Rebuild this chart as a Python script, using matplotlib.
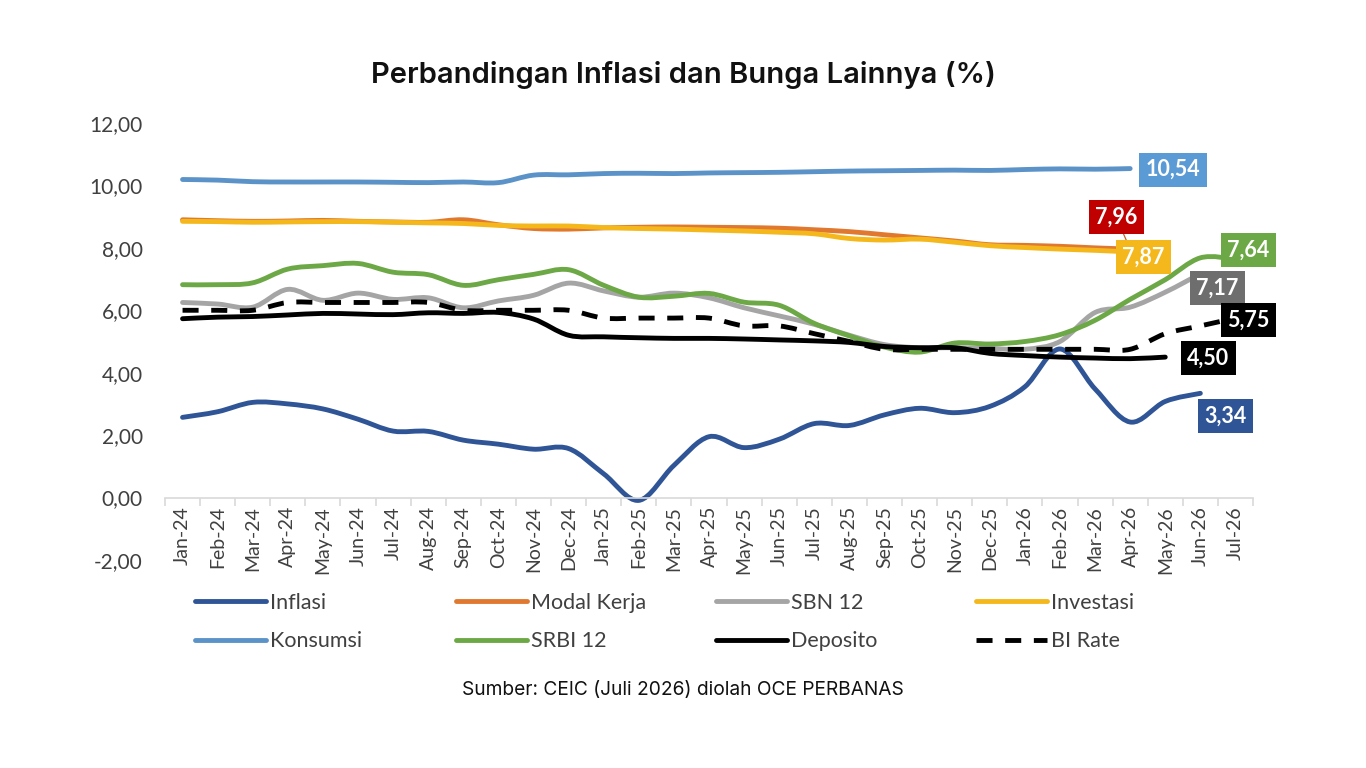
import numpy as np
import matplotlib
matplotlib.use("Agg")
import matplotlib.pyplot as plt
from matplotlib.path import Path
from matplotlib.patches import PathPatch
from matplotlib.lines import Line2D
from matplotlib.ticker import FixedLocator, FuncFormatter

# ---------------------------------------------------------------------------
# Data
# ---------------------------------------------------------------------------
months = ["Jan-24", "Feb-24", "Mar-24", "Apr-24", "May-24", "Jun-24",
          "Jul-24", "Aug-24", "Sep-24", "Oct-24", "Nov-24", "Dec-24",
          "Jan-25", "Feb-25", "Mar-25", "Apr-25", "May-25", "Jun-25",
          "Jul-25", "Aug-25", "Sep-25", "Oct-25", "Nov-25", "Dec-25",
          "Jan-26", "Feb-26", "Mar-26", "Apr-26", "May-26", "Jun-26",
          "Jul-26"]

inflasi = [2.57, 2.75, 3.05, 3.00, 2.84, 2.51, 2.13, 2.12, 1.84, 1.71,
           1.55, 1.57, 0.76, -0.09, 1.03, 1.95, 1.60, 1.87, 2.37, 2.31,
           2.65, 2.86, 2.72, 2.92, 3.55, 4.76, 3.48, 2.42, 3.08, 3.34]
modal_kerja = [8.90, 8.87, 8.85, 8.86, 8.88, 8.85, 8.83, 8.82, 8.90, 8.74,
               8.62, 8.60, 8.64, 8.66, 8.67, 8.66, 8.65, 8.63, 8.58, 8.52,
               8.42, 8.32, 8.22, 8.10, 8.08, 8.05, 8.00, 7.96]
sbn_12 = [6.25, 6.20, 6.10, 6.67, 6.32, 6.55, 6.35, 6.40, 6.08, 6.30,
          6.48, 6.87, 6.62, 6.42, 6.55, 6.40, 6.08, 5.82, 5.55, 5.20,
          4.90, 4.80, 4.80, 4.78, 4.75, 5.00, 5.93, 6.10, 6.58, 7.17]
investasi = [8.85, 8.84, 8.82, 8.83, 8.84, 8.84, 8.82, 8.80, 8.78, 8.72,
             8.70, 8.70, 8.65, 8.62, 8.60, 8.57, 8.54, 8.50, 8.45, 8.30,
             8.25, 8.28, 8.18, 8.07, 8.01, 7.96, 7.92, 7.87]
konsumsi = [10.19, 10.17, 10.12, 10.11, 10.11, 10.11, 10.10, 10.09, 10.11,
            10.09, 10.33, 10.34, 10.38, 10.39, 10.38, 10.40, 10.41, 10.42,
            10.44, 10.46, 10.47, 10.48, 10.49, 10.48, 10.51, 10.53, 10.52,
            10.54]
srbi_12 = [6.82, 6.82, 6.88, 7.32, 7.43, 7.50, 7.22, 7.14, 6.80, 6.98,
           7.15, 7.30, 6.80, 6.42, 6.45, 6.54, 6.26, 6.16, 5.58, 5.18,
           4.82, 4.66, 4.95, 4.92, 5.00, 5.22, 5.68, 6.35, 6.98, 7.68, 7.64]
deposito = [5.73, 5.78, 5.80, 5.85, 5.90, 5.88, 5.86, 5.92, 5.90, 5.93,
            5.72, 5.20, 5.15, 5.12, 5.10, 5.10, 5.08, 5.05, 5.02, 4.97,
            4.84, 4.80, 4.80, 4.62, 4.55, 4.50, 4.47, 4.45, 4.50]
bi_rate = [6.00, 6.00, 6.00, 6.25, 6.25, 6.25, 6.25, 6.25, 6.00, 6.00,
           6.00, 6.00, 5.75, 5.75, 5.75, 5.75, 5.50, 5.50, 5.25, 5.00,
           4.75, 4.75, 4.75, 4.75, 4.75, 4.75, 4.75, 4.75, 5.25, 5.50, 5.75]

# series order = Excel draw order (first at the bottom)
series = [
    ("Inflasi", inflasi, "#2F5597", "-"),
    ("Modal Kerja", modal_kerja, "#E0792F", "-"),
    ("SBN 12", sbn_12, "#A5A5A5", "-"),
    ("Investasi", investasi, "#F5B81C", "-"),
    ("Konsumsi", konsumsi, "#5B93C8", "-"),
    ("SRBI 12", srbi_12, "#6CA845", "-"),
    ("Deposito", deposito, "#000000", "-"),
    ("BI Rate", bi_rate, "#000000", "--"),
]

# end-of-series value boxes: series name -> (box colour, pixel offset)
end_labels = {
    "Konsumsi": ("#5B9BD5", (43, -1)),
    "Modal Kerja": ("#C00000", (-14, 32)),
    "Investasi": ("#F5B81C", (13, -5)),
    "SRBI 12": ("#6CA845", (13, 9)),
    "SBN 12": ("#6E6E6E", (17, -14)),
    "BI Rate": ("#000000", (13, -2)),
    "Deposito": ("#000000", (43, -1)),
    "Inflasi": ("#2F5597", (25, -23)),
}

LW = 3.5
TEXT_FONT = ["Lato", "DejaVu Sans"]
TITLE_FONT = ["Inter", "DejaVu Sans"]


def smooth_path(xs, ys):
    """Excel-like smoothed line as a cubic Bezier path through the points."""
    pts = np.column_stack([xs, ys]).astype(float)
    n = len(pts)
    verts = [pts[0]]
    codes = [Path.MOVETO]
    for i in range(n - 1):
        p0 = pts[i - 1] if i > 0 else pts[i]
        p1, p2 = pts[i], pts[i + 1]
        p3 = pts[i + 2] if i + 2 < n else pts[i + 1]
        verts += [p1 + (p2 - p0) / 6.0, p2 - (p3 - p1) / 6.0, p2]
        codes += [Path.CURVE4] * 3
    return Path(verts, codes)


fig = plt.figure(figsize=(13.66, 7.68), dpi=100, facecolor="white")
ax = fig.add_axes([165 / 1366, 208 / 768, 1088 / 1366, 437 / 768])

handles = {}
for z, (name, vals, color, ls) in enumerate(series):
    xs = np.arange(len(vals))
    if ls == "--":
        style = dict(linestyle=(0, (3.3, 2.6)), capstyle="butt")
        hstyle = dict(linestyle=(0, (3.3, 2.6)), dash_capstyle="butt")
    else:
        style = dict(linestyle="-", capstyle="round")
        hstyle = dict(linestyle="-", solid_capstyle="round")
    patch = PathPatch(smooth_path(xs, vals), facecolor="none", edgecolor=color,
                      lw=LW, joinstyle="round", zorder=2 + z, **style)
    ax.add_patch(patch)
    handles[name] = Line2D([], [], color=color, lw=LW, **hstyle)

    box_color, offset = end_labels[name]
    arrow = None
    if name == "Modal Kerja":
        arrow = dict(arrowstyle="-", color="#C0612A", lw=0.9,
                     shrinkA=0, shrinkB=0)
    ax.annotate(f"{vals[-1]:.2f}".replace(".", ","), xy=(xs[-1], vals[-1]),
                xytext=offset, textcoords="offset pixels",
                ha="center", va="center", color="white", fontsize=15.5,
                fontweight="bold", family=TEXT_FONT, zorder=20,
                bbox=dict(boxstyle="square,pad=0.3", fc=box_color, ec="none"),
                arrowprops=arrow)

ax.set_xlim(-0.5, len(months) - 0.5)
ax.set_ylim(-2, 12)

for side in ("left", "right", "top"):
    ax.spines[side].set_visible(False)
ax.spines["bottom"].set_position(("data", 0))
ax.spines["bottom"].set_color("#D9D9D9")
ax.spines["bottom"].set_linewidth(1.2)

# category ticks between months, labels centred on months
ax.xaxis.set_major_locator(FixedLocator(np.arange(len(months) + 1) - 0.5))
ax.xaxis.set_minor_locator(FixedLocator(np.arange(len(months))))
ax.set_xticklabels([], minor=False)
ax.set_xticklabels(months, minor=True, rotation=90, fontsize=14,
                   color="#404040", family=TEXT_FONT)
ax.tick_params(axis="x", which="major", length=6, width=1.2, color="#D9D9D9")
ax.tick_params(axis="x", which="minor", length=0, pad=6)

ax.set_yticks(np.arange(-2, 13, 2))
ax.yaxis.set_major_formatter(FuncFormatter(lambda v, p: f"{v:.2f}".replace(".", ",")))
ax.tick_params(axis="y", length=0, pad=16, labelsize=15, labelcolor="#404040")
for t in ax.get_yticklabels():
    t.set_family(TEXT_FONT)

# legend: four columns, two rows, fixed column positions like Excel
legend_cols = [("Inflasi", "Konsumsi"), ("Modal Kerja", "SRBI 12"),
               ("SBN 12", "Deposito"), ("Investasi", "BI Rate")]
col_x = [195, 456, 716, 976]
for (top, bottom), x0 in zip(legend_cols, col_x):
    leg = fig.legend([handles[top], handles[bottom]], [top, bottom],
                     loc="center left", bbox_to_anchor=(x0 / 1366, 1 - 622 / 768),
                     frameon=False, borderpad=0, borderaxespad=0,
                     handlelength=3.3, handletextpad=0.2, labelspacing=0.85,
                     prop=dict(family=TEXT_FONT, size=15.5))
    for t in leg.get_texts():
        t.set_color("#404040")

fig.text(0.5, 1 - 75 / 768, "Perbandingan Inflasi dan Bunga Lainnya (%)",
         ha="center", va="center", fontsize=21, fontweight="semibold",
         family=TITLE_FONT, color="#111111")
fig.text(0.5, 1 - 690 / 768, "Sumber: CEIC (Juli 2026) diolah OCE PERBANAS",
         ha="center", va="center", fontsize=13.8, family=TITLE_FONT,
         color="#111111")

fig.savefig("out.png", dpi=100, facecolor="white")
